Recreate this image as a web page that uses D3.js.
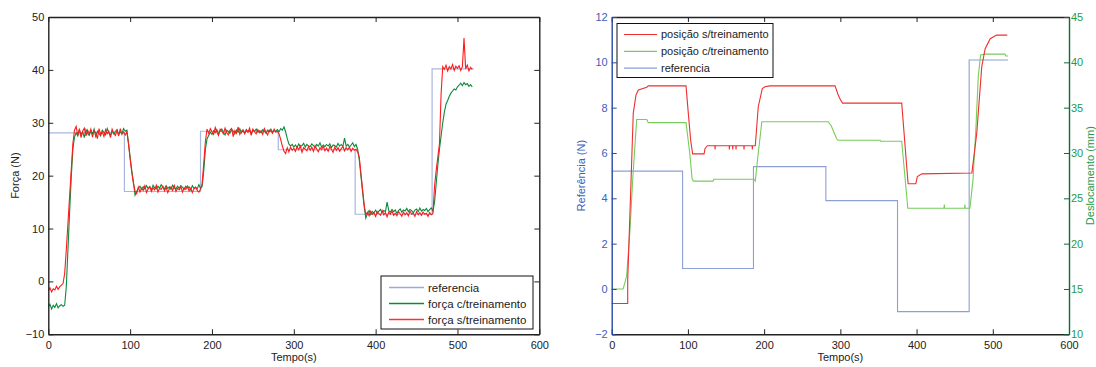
<!DOCTYPE html>
<html><head><meta charset="utf-8">
<script src="https://cdn.jsdelivr.net/npm/d3@7"></script>
<style>
body{margin:0;background:#fff;}
svg{display:block;font-family:"Liberation Sans",Arial,sans-serif;}
</style></head>
<body>
<svg id="c" width="1096" height="367"></svg>
<script>
// ---------- DATA ----------
// step reference (both charts share switching times)
const refTimes = [0, 93, 186, 281, 375, 469, 520];
const refForce = [28.1, 17.0, 28.4, 24.9, 12.7, 40.2];
const refPos   = [5.2, 0.9, 5.4, 3.9, -1.0, 10.1];

// force signals sampled every 2 s from t=0 to t=518
const forceSampleStep = 2;
const forceNoTraining = [
 -1.8,-1.2,-2.0,-1.4,-1.6,-0.9,-1.5,-1.0,-0.7,-0.4,
 1.5,6.0,11.0,16.0,21.0,26.0,28.6,29.3,27.6,28.9,
 27.2,28.4,29.0,27.5,28.6,27.9,28.8,27.3,28.5,28.1,
 27.0,28.9,27.8,28.3,27.4,28.7,27.9,28.4,27.2,28.8,
 28.0,27.6,28.6,27.5,28.9,27.8,28.3,27.7,28.3,26.0,
 23.2,20.6,18.6,17.1,16.6,17.8,16.9,17.6,17.2,18.1,
 16.8,17.5,17.9,17.0,17.7,17.3,18.2,16.9,17.6,17.4,
 18.0,17.1,17.8,16.8,17.5,17.9,17.2,18.1,17.0,17.6,
 17.3,17.9,16.9,17.7,17.4,18.0,17.1,17.6,16.8,17.5,
 17.8,17.2,16.9,17.4,18.5,22.5,26.5,28.8,28.0,28.9,
 28.3,27.8,29.1,28.2,27.6,28.8,28.4,27.9,29.0,28.1,
 27.7,28.6,28.9,27.4,28.5,28.0,29.2,27.8,28.4,28.7,
 27.9,28.6,28.2,29.0,27.6,28.8,28.3,27.9,28.7,28.1,
 28.5,27.8,28.9,28.2,27.7,28.6,28.4,28.0,28.8,28.2,
 28.4,27.9,26.8,25.6,24.6,24.2,25.3,24.5,25.4,24.8,
 25.2,24.6,25.5,24.9,25.6,24.4,25.3,25.0,24.7,25.5,
 24.8,25.4,24.6,25.7,25.0,24.5,25.3,24.9,25.6,24.7,
 25.2,24.6,25.5,25.0,24.4,25.4,24.8,25.3,24.6,25.1,
 25.5,24.7,25.3,24.9,25.4,24.6,25.2,24.8,25.0,24.5,
 23.5,20.5,17.5,14.5,12.6,13.1,12.4,13.3,12.7,13.0,
 12.3,13.2,12.8,12.5,13.4,12.6,13.0,12.2,13.1,12.7,
 13.3,12.5,12.9,12.4,13.2,12.8,12.3,13.1,12.6,13.0,
 12.4,13.3,12.7,12.9,12.3,13.2,12.6,13.0,12.5,13.1,
 12.7,12.9,12.3,13.0,12.6,12.8,18.0,21.0,23.5,26.0,
 35.5,40.6,40.1,40.9,39.8,40.6,40.2,41.0,39.9,40.7,
 40.3,40.8,39.9,40.6,46.0,40.2,40.9,39.8,40.5,40.1
];
const forceWithTraining = [
 -4.8,-4.3,-5.2,-4.5,-4.9,-4.2,-5.0,-4.6,-4.4,-4.7,
 -4.5,-1.0,6.0,13.0,19.5,25.0,27.3,28.1,27.5,28.6,
 27.8,28.3,27.2,28.7,28.0,27.6,28.5,27.9,28.8,27.4,
 28.4,28.0,27.5,28.6,28.2,27.7,28.9,28.1,27.6,28.5,
 27.9,28.4,28.7,27.8,28.3,28.0,28.9,28.4,28.6,26.2,
 23.5,21.0,18.8,16.3,17.0,17.6,18.0,17.4,17.9,17.5,
 18.1,17.6,17.9,17.3,18.2,17.7,17.5,18.0,17.6,18.3,
 17.8,17.5,18.1,17.6,17.9,17.4,18.2,17.7,17.5,18.0,
 17.6,18.1,17.8,17.4,18.0,17.7,17.9,17.3,18.1,17.6,
 17.8,17.5,18.3,17.6,18.0,21.0,25.0,27.0,27.6,28.2,
 27.8,28.5,28.1,28.7,27.9,28.4,28.8,28.2,27.7,28.6,
 28.3,28.0,28.8,28.4,27.9,28.6,28.2,28.9,28.1,28.5,
 28.0,28.7,28.3,28.5,27.9,28.6,28.4,28.8,28.2,28.5,
 28.1,28.7,28.4,28.0,28.6,28.3,28.8,28.2,28.5,28.4,
 28.7,28.3,28.9,28.6,29.2,28.3,27.0,26.0,25.6,25.9,
 25.4,25.8,25.3,26.0,25.5,25.7,26.1,25.4,25.9,25.6,
 25.5,26.0,25.7,25.3,25.9,25.6,26.2,25.4,25.8,25.5,
 25.9,25.6,26.0,25.3,25.8,25.7,25.4,26.1,25.6,25.9,
 25.5,27.1,25.6,25.9,25.4,25.8,26.2,25.5,25.9,25.0,
 23.0,20.0,17.0,14.2,12.0,12.8,13.4,12.6,13.2,13.0,
 13.5,12.9,13.3,13.6,13.0,13.4,13.2,15.0,13.4,13.1,
 13.6,13.2,13.5,12.9,13.4,13.7,13.1,13.5,13.3,13.8,
 13.2,13.6,13.4,13.0,13.5,13.7,13.2,13.9,13.3,13.6,
 13.4,13.8,13.2,13.6,13.9,13.3,15.0,18.5,22.0,25.0,
 27.5,30.0,32.0,33.5,34.2,35.0,35.6,36.0,36.4,36.2,
 36.8,37.1,37.5,37.0,37.6,37.2,37.4,36.9,37.2,36.8
];

// displacement (mm) – time / value pairs
const posNoTrainingT = [0,21,21,25.4,28.3,31.9,35,46,48,97.5,100.5,103.6,106.2,121.2,122.5,125.5,
  135.4,135.6,135.9,154.2,154.4,154.7,158.6,158.8,159.1,162.9,163.1,163.4,173.4,173.6,173.9,184.3,184.5,184.8,
  188.4,192.3,197.6,201,207.5,293,297.2,300.3,303,380.5,388.5,389,399,401,407,472.6,479,485.5,490,496.6,505,519];
const posNoTrainingV = [13.4,13.4,16.0,27.0,34.4,36.4,36.95,37.25,37.4,37.4,34.4,31.4,29.9,29.9,30.5,30.8,
  30.8,30.4,30.8,30.8,30.4,30.8,30.8,30.4,30.8,30.8,30.4,30.8,30.8,30.4,30.8,30.8,30.4,30.8,
  30.8,35.1,37.1,37.3,37.4,37.4,36.4,35.85,35.5,35.5,27.0,26.6,26.6,27.4,27.7,27.8,32.2,39.5,41.5,42.6,43.0,43.0];
const posTrainingT = [0,15,19.6,24,27.5,31,32.8,46,48,97.5,102.4,105.4,107,133,134,186.5,188.4,192.3,197,284,288,291,295,297,
  352,353,380.5,388.5,436,436.4,436.8,463,463.4,463.8,470,474,478,481,484,490,516,517,520];
const posTrainingV = [15.0,15.0,16.4,21.5,27.0,31.5,33.7,33.7,33.35,33.35,30.0,27.2,26.9,26.9,27.1,27.1,26.9,30.0,33.45,33.45,33.0,32.4,31.6,31.4,
  31.4,31.3,31.3,23.9,23.9,24.3,23.9,23.9,24.3,23.9,23.9,27.0,33.0,38.5,40.8,40.9,40.9,40.7,40.7];

// axes ticks & labels
const xTicks = [0,100,200,300,400,500,600];
const forceTicks = [-10,0,10,20,30,40,50];
const refTicks = [-2,0,2,4,6,8,10,12];
const dispTicks = [10,15,20,25,30,35,40,45];
const leftLegend = ["referencia","força c/treinamento","força s/treinamento"];
const rightLegend = ["posição s/treinamento","posição c/treinamento","referencia"];

// ---------- DRAW ----------
const svg = d3.select("#c");
const FS = 11;

function stepPoints(times, vals){
  const pts = vals.map((v,i)=>[times[i], v]);
  pts.push([times[times.length-1], vals[vals.length-1]]);
  return pts;
}
function boxAxes(g, x, y, opt){
  const top=y.range()[1], bot=y.range()[0];
  const col = opt.color || "#222";
  const style = (sel, c) => {
    sel.select(".domain").attr("stroke", c).attr("stroke-width", 1.4);
    sel.selectAll(".tick line").attr("stroke", c).attr("stroke-width", 1);
    sel.selectAll(".tick text").attr("fill", opt.textColor||c).style("font-size", FS+"px");
  };
  g.append("g").attr("transform",`translate(0,${top})`)
    .call(d3.axisTop(x).tickValues(xTicks).tickSize(-5).tickSizeOuter(0).tickFormat(""))
    .call(s=>style(s,col));
  g.append("g").attr("transform",`translate(0,${bot})`)
    .call(d3.axisBottom(x).tickValues(xTicks).tickSize(-5).tickSizeOuter(0).tickPadding(7))
    .call(s=>style(s,col));
}

// ===== Left chart =====
const x1 = d3.scaleLinear().domain([0,600]).range([48.3,539.3]);
const y1 = d3.scaleLinear().domain([-10,50]).range([334.3,17]);
const g1 = svg.append("g");
const line1 = d3.line().x(d=>x1(d[0])).y(d=>y1(d[1]));
const refLine1 = d3.line().curve(d3.curveStepAfter).x(d=>x1(d[0])).y(d=>y1(d[1]));

g1.append("path").attr("d", refLine1(stepPoints(refTimes, refForce)))
  .attr("fill","none").attr("stroke","#a9b7df").attr("stroke-width",1.2);
g1.append("path").attr("d", line1(forceWithTraining.map((v,i)=>[i*forceSampleStep, v])))
  .attr("fill","none").attr("stroke","#0c8a3b").attr("stroke-width",1.1);
g1.append("path").attr("d", line1(forceNoTraining.map((v,i)=>[i*forceSampleStep, v])))
  .attr("fill","none").attr("stroke","#ff1b1b").attr("stroke-width",1.1);

boxAxes(g1, x1, y1, {});
g1.append("g").attr("transform",`translate(${x1.range()[0]},0)`)
  .call(d3.axisLeft(y1).tickValues(forceTicks).tickSize(-5).tickSizeOuter(0).tickPadding(4))
  .call(s=>{s.select(".domain").attr("stroke","#222").attr("stroke-width",1.4);
    s.selectAll(".tick line").attr("stroke","#222");
    s.selectAll(".tick text").attr("fill","#222").style("font-size",FS+"px");});
g1.append("g").attr("transform",`translate(${x1.range()[1]},0)`)
  .call(d3.axisRight(y1).tickValues(forceTicks).tickSize(-5).tickSizeOuter(0).tickFormat(""))
  .call(s=>{s.select(".domain").attr("stroke","#222").attr("stroke-width",1.4);
    s.selectAll(".tick line").attr("stroke","#222");});

g1.append("text").attr("x",(x1.range()[0]+x1.range()[1])/2).attr("y",361)
  .attr("text-anchor","middle").style("font-size",FS+"px").attr("fill","#222").text("Tempo(s)");
g1.append("text").attr("transform",`translate(19,${(17+334.3)/2}) rotate(-90)`)
  .attr("text-anchor","middle").style("font-size",FS+"px").attr("fill","#222").text("Força (N)");

// left legend
const lg1 = g1.append("g").attr("transform","translate(381,276)");
lg1.append("rect").attr("width",152).attr("height",53).attr("fill","#fff").attr("stroke","#111").attr("stroke-width",1);
const lc1 = ["#9aaadb","#0c8a3b","#ff3030"];
leftLegend.forEach((t,i)=>{
  const yy = 11.5 + i*16;
  lg1.append("line").attr("x1",8).attr("x2",43).attr("y1",yy).attr("y2",yy)
    .style("stroke",lc1[i]).attr("stroke-width",1.3);
  lg1.append("text").attr("x",47).attr("y",yy).attr("dy","0.35em").style("font-size","11.5px").attr("fill","#222").text(t);
});

// ===== Right chart =====
const x2 = d3.scaleLinear().domain([0,600]).range([611.7,1069]);
const y2 = d3.scaleLinear().domain([-2,12]).range([334.3,17]);
const y3 = d3.scaleLinear().domain([10,45]).range([334.3,17]);
const g2 = svg.append("g");
const refLine2 = d3.line().curve(d3.curveStepAfter).x(d=>x2(d[0])).y(d=>y2(d[1]));
const posLine = d3.line().x(d=>x2(d[0])).y(d=>y3(d[1]));

g2.append("path").attr("d", refLine2(stepPoints(refTimes, refPos)))
  .attr("fill","none").attr("stroke","#8c9fd6").attr("stroke-width",1.1);
g2.append("path").attr("d", posLine(posTrainingT.map((t,i)=>[t,posTrainingV[i]])))
  .attr("fill","none").attr("stroke","#77cc5c").attr("stroke-width",1.1);
g2.append("path").attr("d", posLine(posNoTrainingT.map((t,i)=>[t,posNoTrainingV[i]])))
  .attr("fill","none").attr("stroke","#ef2e2e").attr("stroke-width",1.1);

boxAxes(g2, x2, y2, {});
g2.append("g").attr("transform",`translate(${x2.range()[0]},0)`)
  .call(d3.axisLeft(y2).tickValues(refTicks).tickSize(-5).tickSizeOuter(0).tickPadding(4))
  .call(s=>{s.select(".domain").attr("stroke","#2b47a3").attr("stroke-width",1.4);
    s.selectAll(".tick line").attr("stroke","#2b47a3");
    s.selectAll(".tick text").attr("fill","#3d60b8").style("font-size",FS+"px");});
g2.append("g").attr("transform",`translate(${x2.range()[1]},0)`)
  .call(d3.axisRight(y3).tickValues(dispTicks).tickSize(-5).tickSizeOuter(0).tickPadding(2))
  .call(s=>{s.select(".domain").attr("stroke","#0d6b38").attr("stroke-width",1.4);
    s.selectAll(".tick line").attr("stroke","#0d6b38");
    s.selectAll(".tick text").attr("fill","#1f9a4e").style("font-size",FS+"px");});

g2.append("text").attr("x",(x2.range()[0]+x2.range()[1])/2).attr("y",361)
  .attr("text-anchor","middle").style("font-size",FS+"px").attr("fill","#222").text("Tempo(s)");
g2.append("text").attr("transform",`translate(585,${(17+334.3)/2}) rotate(-90)`)
  .attr("text-anchor","middle").style("font-size",FS+"px").attr("fill","#3d60b8").text("Referência (N)");
g2.append("text").attr("transform",`translate(1094,${(17+334.3)/2}) rotate(-90)`)
  .attr("text-anchor","middle").style("font-size",FS+"px").attr("fill","#1f9a4e").text("Deslocamento (mm)");

// right legend
const lg2 = g2.append("g").attr("transform","translate(617,23.5)");
lg2.append("rect").attr("width",156).attr("height",54).attr("fill","#fff").attr("stroke","#111").attr("stroke-width",1);
const lc2 = ["#ef2e2e","#77cc5c","#8c9fd6"];
rightLegend.forEach((t,i)=>{
  const yy = 11 + i*16.8;
  lg2.append("line").attr("x1",7).attr("x2",40).attr("y1",yy).attr("y2",yy)
    .style("stroke",lc2[i]).attr("stroke-width",1.2);
  lg2.append("text").attr("x",44).attr("y",yy).attr("dy","0.35em").style("font-size","11px").attr("fill","#222").text(t);
});
</script>
</body></html>
